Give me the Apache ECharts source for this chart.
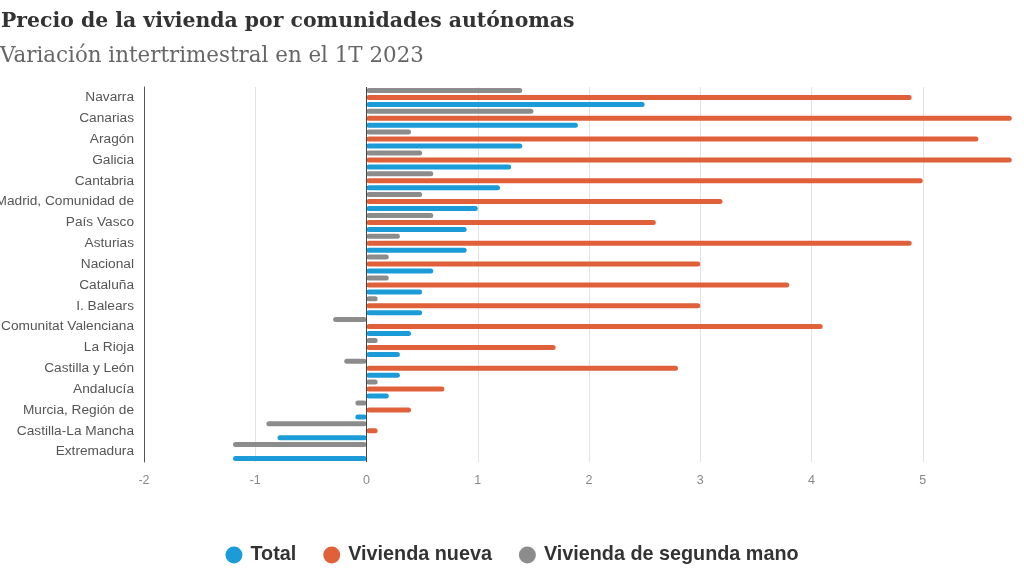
<!DOCTYPE html>
<html>
<head>
<meta charset="utf-8">
<script src="https://cdn.jsdelivr.net/npm/echarts@6/dist/echarts.min.js"></script>
<style>html,body{margin:0;padding:0;background:#fff;}#c{width:1024px;height:576px;}</style>
</head>
<body>
<div id="c"></div>
<script>
const categories = ["Navarra","Canarias","Aragón","Galicia","Cantabria","Madrid, Comunidad de","País Vasco","Asturias","Nacional","Cataluña","I. Balears","Comunitat Valenciana","La Rioja","Castilla y León","Andalucía","Murcia, Región de","Castilla-La Mancha","Extremadura"];
const total =        [2.5, 1.9, 1.4, 1.3, 1.2, 1.0, 0.9, 0.9, 0.6, 0.5, 0.5, 0.4, 0.3, 0.3, 0.2, -0.1, -0.8, -1.2];
const viviendaNueva =[4.9, 5.8, 5.5, 5.8, 5.0, 3.2, 2.6, 4.9, 3.0, 3.8, 3.0, 4.1, 1.7, 2.8, 0.7, 0.4, 0.1, 0.0];
const segundaMano =  [1.4, 1.5, 0.4, 0.5, 0.6, 0.5, 0.6, 0.3, 0.2, 0.2, 0.1, -0.3, 0.1, -0.2, 0.1, -0.1, -0.9, -1.2];
const xTicks = [-2, -1, 0, 1, 2, 3, 4, 5];

const COLORS = {total:'#1b9bd7', nueva:'#e0603a', segunda:'#8c8c8c'};
const chart = echarts.init(document.getElementById('c'), null, {renderer:'canvas'});
function barSeries(name, data, color, withZero){
  const s = {
    name, type:'bar', data, barWidth:5, barGap:'40%', barCategoryGap:'10%',
    itemStyle:{color, borderRadius:3},
    emphasis:{disabled:true}, animation:false
  };
  if (withZero) {
    s.markLine = {silent:true, symbol:'none', label:{show:false},
      lineStyle:{color:'#444', width:1, type:'solid'}, data:[{xAxis:0}]};
  }
  return s;
}
chart.setOption({
  animation:false,
  title:[
    {text:'Precio de la vivienda por comunidades autónomas', left:-4, top:7,
     textStyle:{fontFamily:'DejaVu Serif', fontWeight:'bold', fontSize:20.4, color:'#333'}},
    {text:'Variación intertrimestral en el 1T 2023', left:-5, top:41,
     textStyle:{fontFamily:'DejaVu Serif', fontWeight:'normal', fontSize:21.4, color:'#666'}}
  ],
  legend:{
    data:['Total','Vivienda nueva','Vivienda de segunda mano'],
    bottom:6, left:'center', icon:'circle', itemWidth:17, itemHeight:19, itemGap:27,
    textStyle:{fontFamily:'Liberation Sans', fontSize:19.8, fontWeight:'bold', color:'#333', padding:[0,0,0,3]}
  },
  grid:{left:144, width:890, top:87, bottom:114, containLabel:false, outerBoundsMode:'none'},
  xAxis:{
    type:'value', min:-2, max:6, interval:1,
    axisLine:{show:false}, axisTick:{show:false},
    splitLine:{show:true, lineStyle:{color:'#e3e3e3', width:1}},
    axisLabel:{color:'#888', fontFamily:'Liberation Sans', fontSize:12.5, margin:12,
      formatter: v => xTicks.indexOf(v) >= 0 ? String(v) : ''}
  },
  yAxis:{
    type:'category', data:categories, inverse:true,
    axisLine:{show:true, onZero:false, lineStyle:{color:'#555', width:1}},
    axisTick:{show:false},
    axisLabel:{color:'#555', fontFamily:'Liberation Sans', fontSize:13.7, margin:10}
  },
  series:[
    barSeries('Vivienda de segunda mano', segundaMano, COLORS.segunda, true),
    barSeries('Vivienda nueva', viviendaNueva, COLORS.nueva),
    barSeries('Total', total, COLORS.total)
  ]
});
</script>
</body>
</html>
